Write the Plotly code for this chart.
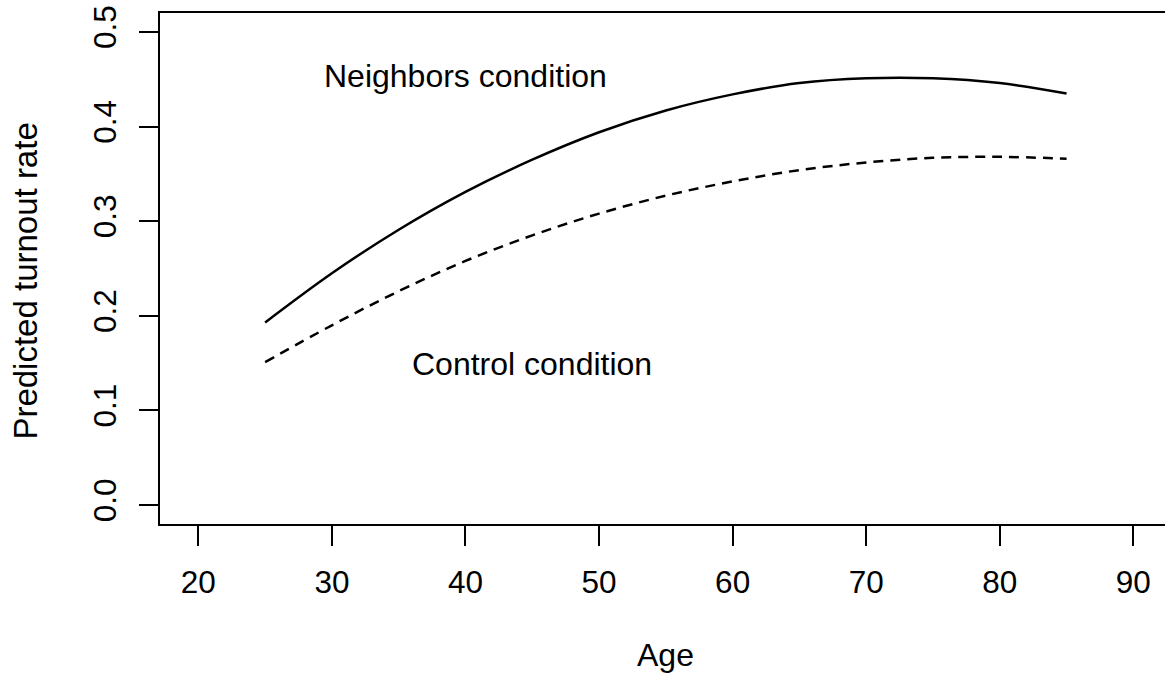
import plotly.graph_objects as go

ages = [25, 30, 35, 40, 45, 50, 55, 60, 65, 70, 75, 80, 85]
neighbors = [0.193, 0.245, 0.291, 0.331, 0.365, 0.394, 0.417, 0.434, 0.446, 0.451, 0.451, 0.446, 0.435]
control = [0.151, 0.190, 0.226, 0.258, 0.285, 0.308, 0.327, 0.342, 0.354, 0.362, 0.367, 0.368, 0.366]

x_ticks = [20, 30, 40, 50, 60, 70, 80, 90]
y_ticks = [0.0, 0.1, 0.2, 0.3, 0.4, 0.5]
y_tick_labels = ["0.0", "0.1", "0.2", "0.3", "0.4", "0.5"]

FONT = "Liberation Sans, Arial, Helvetica, sans-serif"
FS = 31.5

fig = go.Figure()
fig.add_trace(go.Scatter(x=ages, y=neighbors, mode="lines", line=dict(color="black", width=2.5, shape="spline"),
                         showlegend=False, hoverinfo="skip"))
fig.add_trace(go.Scatter(x=ages, y=control, mode="lines",
                         line=dict(color="black", width=2.5, shape="spline", dash="10px,7px"),
                         showlegend=False, hoverinfo="skip"))

fig.add_annotation(x=40, y=0.4537, xref="x", yref="y", text="Neighbors condition", showarrow=False,
                   font=dict(family=FONT, size=32, color="black"), xanchor="center", yanchor="middle")
fig.add_annotation(x=45, y=0.149, xref="x", yref="y", text="Control condition", showarrow=False,
                   font=dict(family=FONT, size=32, color="black"), xanchor="center", yanchor="middle")

# axis titles
fig.add_annotation(x=55, y=-0.256, xref="x", yref="paper", text="Age", showarrow=False,
                   font=dict(family=FONT, size=32, color="black"), xanchor="center", yanchor="middle")
fig.add_annotation(x=-0.134, y=0.475, xref="paper", yref="paper", text="Predicted turnout rate", showarrow=False,
                   textangle=-90, font=dict(family=FONT, size=33, color="black"), xanchor="center", yanchor="middle")

fig.update_layout(
    width=1165, height=680,
    margin=dict(l=160, r=0, t=13, b=156),
    paper_bgcolor="white", plot_bgcolor="white",
    font=dict(family=FONT, size=FS, color="black"),
    xaxis=dict(range=[17.13, 92.37], tickvals=x_ticks, ticks="outside", ticklen=20, tickwidth=2,
               tickcolor="black", showline=True, linecolor="black", linewidth=2, mirror=True,
               showgrid=False, zeroline=False, tickfont=dict(size=FS), ticklabelstandoff=9),
    yaxis=dict(range=[-0.02, 0.52], tickvals=y_ticks, ticktext=y_tick_labels, ticks="outside", ticklen=19,
               tickwidth=2, tickcolor="black", showline=True, linecolor="black", linewidth=2,
               showgrid=False, zeroline=False, tickangle=-90, tickfont=dict(size=FS), ticklabelstandoff=10),
)

fig.write_html("out.html")
